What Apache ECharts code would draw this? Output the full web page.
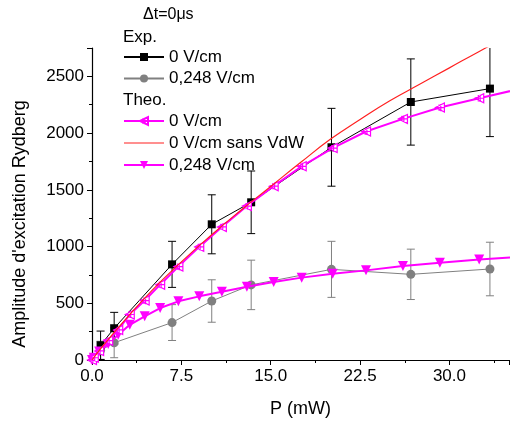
<!DOCTYPE html>
<html><head><meta charset="utf-8">
<script src="https://cdn.jsdelivr.net/npm/echarts@6/dist/echarts.min.js"></script>
<style>html,body{margin:0;padding:0;background:#fff}#c{width:512px;height:423px}</style>
</head><body><div id="c"></div>
<script>
// ---- data ----
var expX = [0.15, 0.72, 1.86, 6.72, 10.05, 13.36, 20.1, 26.76, 33.4];
var exp0Y = [20, 130, 280, 843, 1196, 1390, 1875, 2274, 2392];
var exp0Err = [20, 125, 140, 203, 260, 276, 343, 380, 423];
var exp248Y = [15, 85, 152, 330, 520, 662, 799, 755, 802];
var exp248Err = [15, 80, 132, 158, 187, 218, 247, 222, 236];

var theoX = [0, 0.15, 0.6, 1.36, 2.2, 3.17, 4.42, 5.72, 7.25, 9.0, 10.9, 13.0, 15.25, 17.6, 20.2, 23.0, 26.1, 29.2, 32.5, 35.9];
var theo0Y = [0, 20, 80, 170, 265, 401, 524, 664, 823, 997, 1173, 1357, 1532, 1707, 1868, 2014, 2125, 2225, 2307, 2390];
var theo248Y = [0, 20, 75, 140, 222, 310, 385, 458, 517, 561, 601, 645, 688, 726, 761, 790, 828, 857, 886, 910];

var redX = [0, 1, 2.5, 5, 7.5, 10, 12.5, 15, 17.5, 20, 22.5, 25, 27.5, 30, 32.5, 35];
var redY = [0, 135, 320, 610, 865, 1100, 1320, 1530, 1740, 1945, 2120, 2285, 2430, 2575, 2720, 2860];

var xTicks = [0, 7.5, 15, 22.5, 30];
var yTicks = [0, 500, 1000, 1500, 2000, 2500];
var legendLabels = {
  exp0: '0 V/cm', exp248: '0,248 V/cm',
  theo0: '0 V/cm', theoNoVdW: '0 V/cm sans VdW', theo248: '0,248 V/cm'
};
var titleText = '\u0394t=0\u03bcs';
var yName = "Amplitude d'excitation Rydberg";
var xName = 'P (mW)';

// ---- build ----
function zip(xs, ys) { return xs.map(function (x, i) { return [x, ys[i]]; }); }
function errData(xs, ys, es) { return xs.map(function (x, i) { return [x, ys[i] - es[i], ys[i] + es[i]]; }); }
function errSeries(data, color) {
  return {
    type: 'custom', silent: true, clip: true, z: 1,
    data: data,
    encode: { x: 0, y: [1, 2] },
    renderItem: function (params, api) {
      var x = api.value(0);
      var lo = api.coord([x, api.value(1)]);
      var hi = api.coord([x, api.value(2)]);
      var w = 4;
      var st = { stroke: color, lineWidth: 1 };
      return { type: 'group', children: [
        { type: 'line', shape: { x1: lo[0], y1: lo[1], x2: hi[0], y2: hi[1] }, style: st },
        { type: 'line', shape: { x1: lo[0] - w, y1: lo[1], x2: lo[0] + w, y2: lo[1] }, style: st },
        { type: 'line', shape: { x1: hi[0] - w, y1: hi[1], x2: hi[0] + w, y2: hi[1] }, style: st }
      ]};
    }
  };
}
var MAG = '#ff00ff';
var RED = '#ff2020';
var crossTri = 'path://M0,5 L10,0 L10,10 Z M4,1.5 L4,8.5 M6,1 L6,9 M0,5 L10,5';
var lineIcon = 'path://M0,4.4 L40,4.4 L40,5.6 L0,5.6 Z';
var font = 'Liberation Sans, Arial, sans-serif';
var legendText = { fontSize: 17, color: '#000', lineHeight: 20, fontFamily: font };

var chart = echarts.init(document.getElementById('c'), null, { renderer: 'canvas' });
chart.setOption({
  animation: false,
  backgroundColor: '#fff',
  textStyle: { fontFamily: font },
  grid: { left: 92, right: 0, top: 48, bottom: 60, containLabel: false },
  xAxis: {
    type: 'value', min: 0, max: 35, interval: 7.5,
    name: xName, nameLocation: 'middle', nameGap: 40,
    nameTextStyle: { fontSize: 18, color: '#000', fontFamily: font },
    axisLine: { lineStyle: { color: '#000', width: 1.2 } },
    axisTick: { length: 5, lineStyle: { color: '#000' } },
    minorTick: { show: true, splitNumber: 2, length: 3, lineStyle: { color: '#000' } },
    splitLine: { show: false },
    axisLabel: { fontSize: 17, color: '#000', margin: 8, fontFamily: font,
      formatter: function (v) { return xTicks.indexOf(v) >= 0 ? v.toFixed(1) : ''; } }
  },
  yAxis: {
    type: 'value', min: 0, max: 2750, interval: 500,
    axisLine: { show: true, lineStyle: { color: '#000', width: 1.2 } },
    axisTick: { show: true, length: 5, lineStyle: { color: '#000' } },
    minorTick: { show: true, splitNumber: 2, length: 3, lineStyle: { color: '#000' } },
    splitLine: { show: false },
    axisLabel: { fontSize: 17, color: '#000', margin: 8, fontFamily: font,
      formatter: function (v) { return yTicks.indexOf(v) >= 0 ? String(v) : ''; } }
  },
  legend: [
    { data: ['exp0', 'exp248'], orient: 'vertical', left: 123, top: 47, padding: 0,
      itemWidth: 40, itemHeight: 10, itemGap: 1.5, selectedMode: false,
      textStyle: legendText,
      formatter: function (n) { return legendLabels[n]; } },
    { data: ['theo0', { name: 'theoNoVdW', icon: lineIcon, itemStyle: { color: RED } }, 'theo248'],
      orient: 'vertical', left: 123, top: 111, padding: 0,
      itemWidth: 40, itemHeight: 10, itemGap: 2, selectedMode: false,
      textStyle: legendText,
      formatter: function (n) { return legendLabels[n]; } }
  ],
  graphic: [
    { type: 'text', left: 143, top: 7, style: { text: titleText, fill: '#000', font: '16px ' + font } },
    { type: 'text', left: 123, top: 29, style: { text: 'Exp.', fill: '#000', font: '17px ' + font } },
    { type: 'text', left: 123, top: 92, style: { text: 'Theo.', fill: '#000', font: '17px ' + font } },
    { type: 'text', x: 20, y: 224, rotation: Math.PI / 2,
      style: { text: yName, fill: '#000', font: '18px ' + font, align: 'center', verticalAlign: 'middle' } }
  ],
  series: [
    errSeries(errData(expX, exp248Y, exp248Err), '#808080'),
    errSeries(errData(expX, exp0Y, exp0Err), '#000'),
    { name: 'exp248', type: 'line', data: zip(expX, exp248Y), z: 2,
      symbol: 'circle', symbolSize: 9, showAllSymbol: true,
      lineStyle: { color: '#808080', width: 1 }, itemStyle: { color: '#808080' } },
    { name: 'exp0', type: 'line', data: zip(expX, exp0Y), z: 3,
      symbol: 'rect', symbolSize: 8, showAllSymbol: true,
      lineStyle: { color: '#000', width: 1 }, itemStyle: { color: '#000' } },
    { name: 'theo248', type: 'line', data: zip(theoX, theo248Y), z: 4, clip: true,
      symbol: 'triangle', symbolRotate: 180, symbolSize: 10, showAllSymbol: true,
      lineStyle: { color: MAG, width: 2 }, itemStyle: { color: MAG } },
    { name: 'theo0', type: 'line', data: zip(theoX, theo0Y), z: 4, clip: true,
      symbol: crossTri, symbolSize: 9, showAllSymbol: true,
      lineStyle: { color: MAG, width: 2 }, itemStyle: { color: '#fff', borderColor: MAG, borderWidth: 1.2 } },
    { name: 'theoNoVdW', type: 'line', data: zip(redX, redY), z: 5, clip: true,
      symbol: 'none', smooth: true,
      lineStyle: { color: RED, width: 1.2 }, itemStyle: { color: RED } }
  ]
});
</script></body></html>
